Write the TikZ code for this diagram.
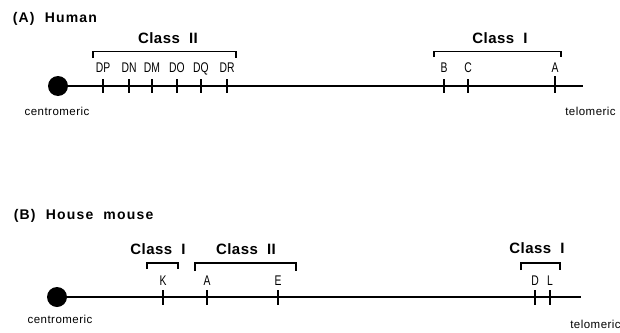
\documentclass[tikz,border=0pt]{standalone}
\usepackage{fontspec}
\setmainfont{Liberation Sans}
\newfontfamily\genefont[FakeStretch=0.74]{Liberation Sans}
\newfontfamily\titlefont[LetterSpace=8.5]{Liberation Sans}
\newfontfamily\classfont[LetterSpace=3]{Liberation Sans}
\newfontfamily\endfont[LetterSpace=4]{Liberation Sans}
\begin{document}
\begin{tikzpicture}[x=1pt,y=-1pt,line width=1.6pt,
  title/.style={anchor=base west,inner sep=0,font=\titlefont\fontsize{14}{16}\selectfont\bfseries},
  cls/.style={anchor=base,inner sep=0,font=\classfont\fontsize{15}{17}\selectfont\bfseries},
  gene/.style={anchor=base,inner sep=0,font=\genefont\fontsize{14}{16}\selectfont},
  endlbl/.style={anchor=base,inner sep=0,font=\endfont\fontsize{11.5}{13}\selectfont},
  cen/.style={circle,fill=black,draw=none,minimum size=20pt,inner sep=0},
  tickmark/.style={line width=1.6pt},
  bracket/.style={line width=1.6pt}]
\useasboundingbox (0,0) rectangle (620,332);

% ---------------- (A) Human ----------------
\node[title] (titleA) at (12,22) {(A)\ \ Human};
\node[cen] (cenA) at (58,86) {};
\coordinate (endA) at (583,86);
\draw (cenA.center) -- (endA);

\node[cls] (c2A) at (168,43) {Class\ \ II};
\node[cls] (c1A) at (500,43) {Class\ \ I};
\draw[bracket] (93,58) -- (93,51.5) -- (236,51.5) -- (236,58);
\draw[bracket] (434,57) -- (434,51.5) -- (561,51.5) -- (561,57);

\foreach \n/\x in {DP/103,DN/129,DM/152,DO/177,DQ/201,DR/227,B/444,C/468}{
  \node[gene] (g\n A) at (\x,72.5) {\n};
  \draw[tickmark] (\x,79) -- (\x,93);
}
\node[gene] (gAA) at (555,72.5) {A};
\draw[tickmark] (555,76) -- (555,93);

\node[endlbl] (centA) at (57,115.5) {centromeric};
\node[endlbl] (telA) at (590.5,115.5) {telomeric};

% ---------------- (B) House mouse ----------------
\node[title] (titleB) at (13,219.5) {(B)\ \ House\ \ mouse};
\node[cen] (cenB) at (57,297) {};
\coordinate (endB) at (581,297);
\draw (cenB.center) -- (endB);

\node[cls] (c1B) at (158,254) {Class\ \ I};
\node[cls] (c2B) at (246,254) {Class\ \ II};
\node[cls] (c1Bb) at (537,253.5) {Class\ \ I};
\draw[bracket] (147,269) -- (147,263) -- (178,263) -- (178,269);
\draw[bracket] (195,271) -- (195,263) -- (296,263) -- (296,271);
\draw[bracket] (521,270) -- (521,263) -- (560,263) -- (560,270);

\foreach \n/\x in {K/163,A/207,E/278,D/535,L/550}{
  \node[gene] (g\n B) at (\x,285) {\n};
  \draw[tickmark] (\x,290) -- (\x,305);
}

\node[endlbl] (centB) at (60,323) {centromeric};
\node[endlbl] (telB) at (595.5,328) {telomeric};
\end{tikzpicture}
\end{document}
